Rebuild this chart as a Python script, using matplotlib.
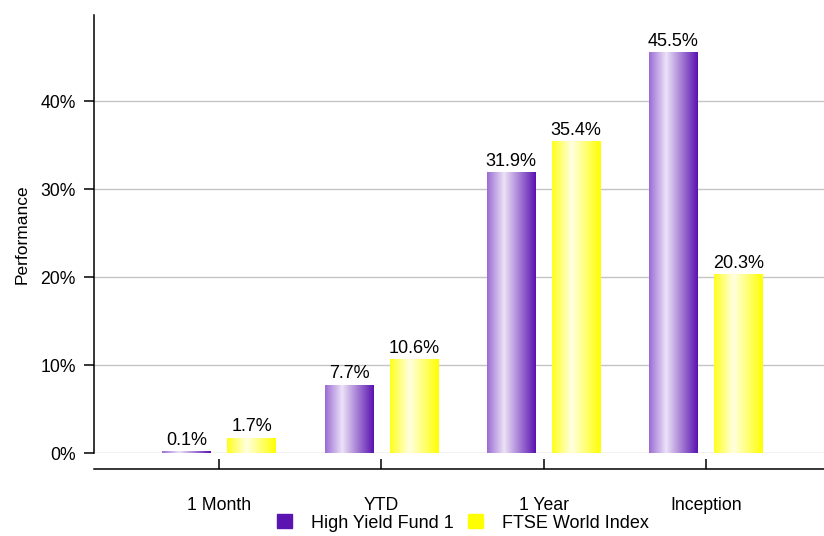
import numpy as np
import matplotlib.pyplot as plt
from matplotlib.colors import LinearSegmentedColormap
from matplotlib.patches import Patch

plt.rcParams['font.family'] = ['Liberation Sans', 'DejaVu Sans']

categories = ['1 Month', 'YTD', '1 Year', 'Inception']
fund = [0.1, 7.7, 31.9, 45.5]
ftse = [1.7, 10.6, 35.4, 20.3]
series_names = ['High Yield Fund 1', 'FTSE World Index']

purple_cmap = LinearSegmentedColormap.from_list(
    'pur', [(0, '#9a6cd4'), (0.35, '#ece2f7'), (1.0, '#5a12b0')])
yellow_cmap = LinearSegmentedColormap.from_list(
    'yel', [(0, '#ffff1a'), (0.4, '#ffffe2'), (1.0, '#ffff00')])

fig = plt.figure(figsize=(8.24, 5.36), dpi=100)
ax = fig.add_axes([94 / 824, 83 / 536, 730 / 824, 438 / 536])

x = np.arange(len(categories))
w = 0.30
off = 0.20

gradient = np.linspace(0, 1, 256).reshape(1, -1)
for vals, cmap in [(fund, purple_cmap), (ftse, yellow_cmap)]:
    shift = -off if cmap is purple_cmap else off
    bars = ax.bar(x + shift, vals, w, color='none', edgecolor='none')
    for p in bars.patches:
        x0 = p.get_x()
        ax.imshow(gradient, cmap=cmap, aspect='auto', zorder=3,
                  extent=(x0, x0 + p.get_width(), 0, max(p.get_height(), 0.12)))
    ax.bar_label(bars, labels=[f'{v:.1f}%' for v in vals], padding=2, fontsize=13)

ax.set_xlim(-0.772, 3.728)
ax.set_ylim(0, 49.8)

ax.set_yticks([0, 10, 20, 30, 40])
ax.set_yticklabels([f'{t}%' for t in [0, 10, 20, 30, 40]])
ax.yaxis.grid(True, color='#c4c4c4', linewidth=1)
ax.set_axisbelow(True)
ax.set_ylabel('Performance', fontsize=12.5, labelpad=8)

ax.set_xticks(x)
ax.set_xticklabels(categories)

for s in ['top', 'right']:
    ax.spines[s].set_visible(False)
ax.spines['bottom'].set_position(('outward', 11.5))
ax.spines['left'].set_linewidth(1.1)
ax.spines['bottom'].set_linewidth(1.1)
ax.tick_params(axis='x', direction='in', length=7, pad=20, labelsize=12.7, width=1.1)
ax.tick_params(axis='y', direction='out', length=7, pad=6, labelsize=12.7, width=1.1)

handles = [Patch(facecolor='#5b14b0', edgecolor='#5b14b0'),
           Patch(facecolor='#ffff00', edgecolor='#ffff00')]
fig.legend(handles, series_names, loc='lower center', bbox_to_anchor=(0.562, -0.022),
           ncol=2, frameon=False, fontsize=13, handlelength=0.83, handleheight=0.83,
           columnspacing=0.8, handletextpad=1.05)

fig.savefig('out.png', dpi=100)
